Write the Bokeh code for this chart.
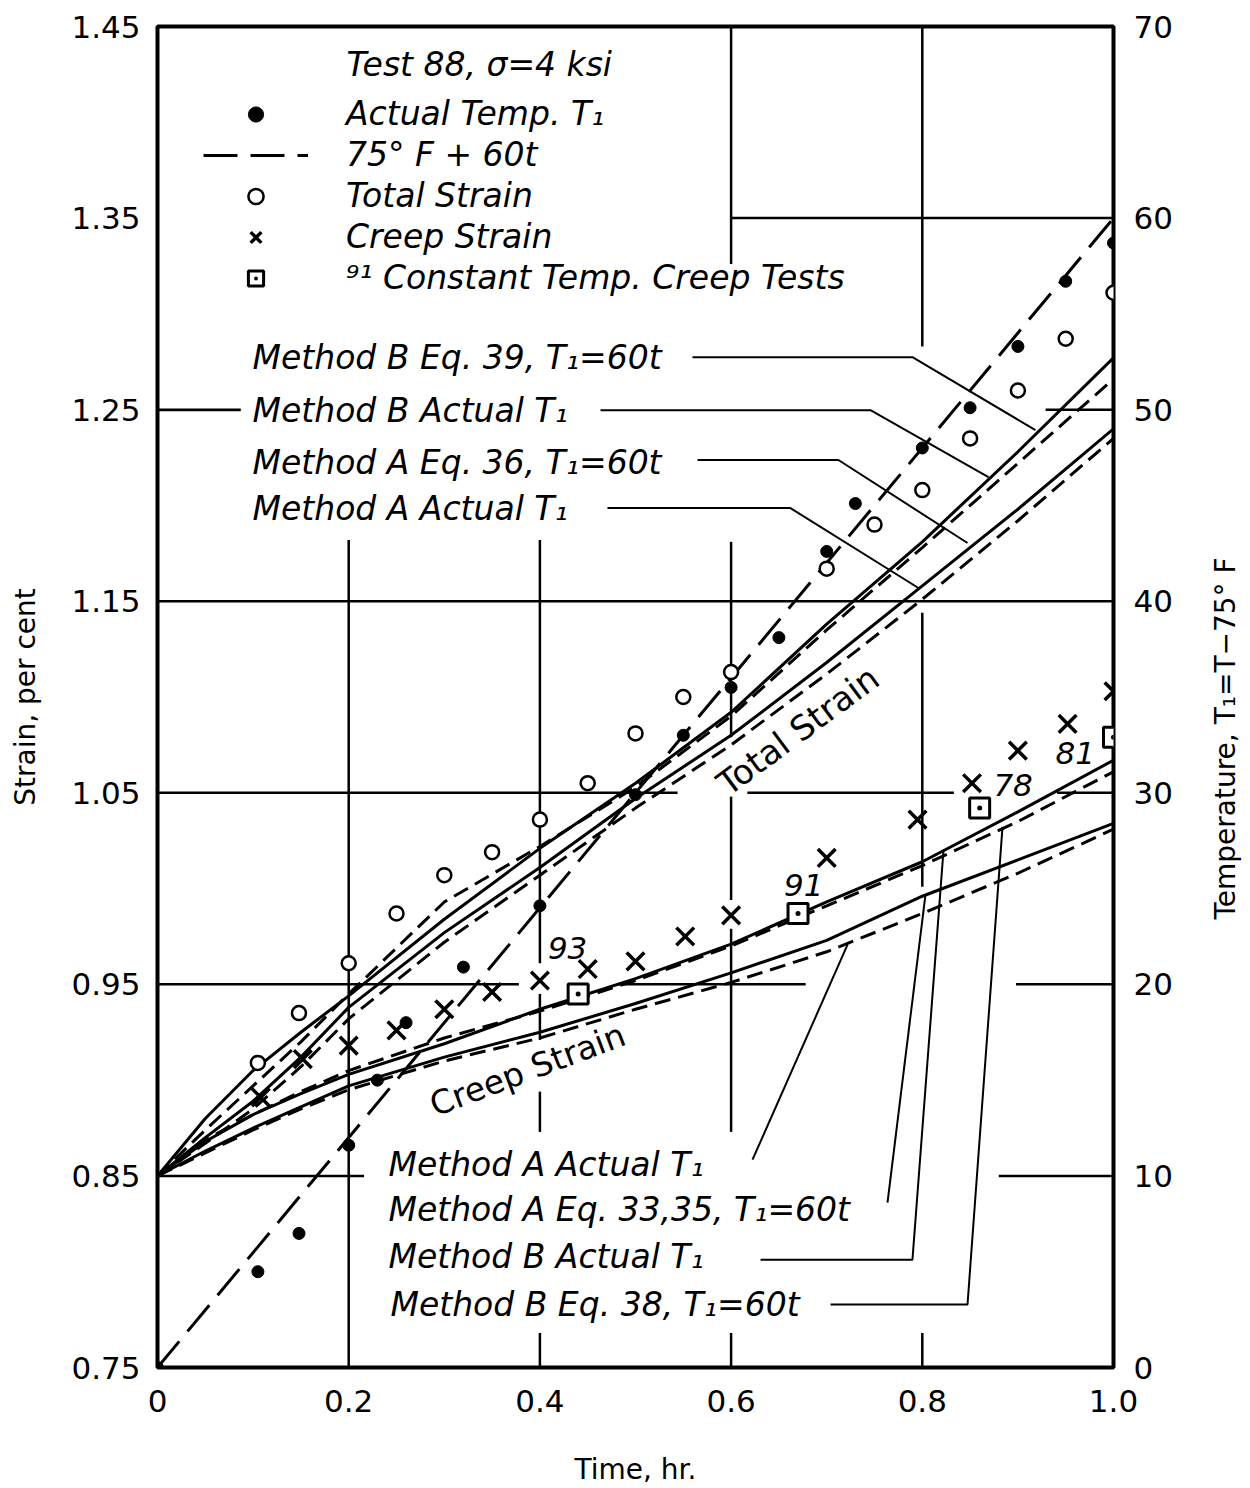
import math
from bokeh.plotting import figure
from bokeh.layouts import row
from bokeh.models import (Range1d, LinearAxis, FixedTicker, NumeralTickFormatter,
                          Label, Legend, LegendItem)
from bokeh.embed import file_html
from bokeh.resources import INLINE

# ---------------- data ----------------
# actual temperature T1 (deg F above 75 F), right axis
temp_t = [0, 0.105, 0.148, 0.2, 0.23, 0.26, 0.32, 0.4, 0.5, 0.55, 0.6, 0.65,
          0.7, 0.73, 0.8, 0.85, 0.9, 0.95, 1.0]
temp_T = [0, 5.0, 7.0, 11.6, 15.0, 18.0, 20.9, 24.1, 29.9, 33.0, 35.5, 38.1,
          42.6, 45.1, 48.0, 50.1, 53.3, 56.7, 58.7]
# programmed temperature 75F + 60t
prog_t = [0, 1.0]
prog_T = [0, 60]
# total strain (open circles)
total_t = [0.105, 0.148, 0.2, 0.25, 0.3, 0.35, 0.4, 0.45, 0.5, 0.55, 0.6, 0.7,
           0.75, 0.8, 0.85, 0.9, 0.95, 1.0]
total_s = [0.909, 0.935, 0.961, 0.987, 1.007, 1.019, 1.036, 1.055, 1.081, 1.100,
           1.113, 1.167, 1.190, 1.208, 1.235, 1.260, 1.287, 1.311]
# creep strain (crosses)
creep_t = [0.108, 0.152, 0.2, 0.25, 0.30, 0.35, 0.4, 0.45, 0.5, 0.552, 0.6, 0.70,
           0.795, 0.852, 0.90, 0.952, 1.0]
creep_s = [0.891, 0.911, 0.918, 0.926, 0.937, 0.946, 0.952, 0.958, 0.962, 0.975,
           0.986, 1.016, 1.036, 1.055, 1.072, 1.086, 1.103]
# constant temperature creep tests
const_t = [0.44, 0.67, 0.86, 1.0]
const_s = [0.945, 0.987, 1.042, 1.079]
const_lbl = ["93", "91", "78", "81"]
const_lbl_t = [0.429, 0.676, 0.895, 0.960]
const_lbl_s = [0.969, 1.002, 1.054, 1.071]

# model curves
curve_t = [0, 0.05, 0.1, 0.15, 0.2, 0.3, 0.4, 0.5, 0.6, 0.7, 0.8, 0.9, 1.0]
tot_B_actual = [0.85, 0.880, 0.905, 0.925, 0.944, 0.984, 1.021, 1.055, 1.092, 1.138, 1.181, 1.228, 1.277]
tot_B_eq39 = [0.85, 0.874, 0.897, 0.920, 0.945, 0.993, 1.022, 1.053, 1.090, 1.135, 1.178, 1.222, 1.266]
tot_A_actual = [0.85, 0.870, 0.889, 0.912, 0.938, 0.977, 1.011, 1.047, 1.080, 1.118, 1.158, 1.198, 1.240]
tot_A_eq36 = [0.85, 0.867, 0.885, 0.907, 0.932, 0.972, 1.007, 1.042, 1.075, 1.112, 1.151, 1.192, 1.235]
crp_B_actual = [0.85, 0.868, 0.882, 0.893, 0.903, 0.919, 0.937, 0.953, 0.971, 0.993, 1.014, 1.040, 1.067]
crp_B_eq38 = [0.85, 0.869, 0.882, 0.894, 0.905, 0.922, 0.936, 0.952, 0.970, 0.991, 1.012, 1.035, 1.061]
crp_A_eq33 = [0.85, 0.863, 0.875, 0.886, 0.897, 0.912, 0.925, 0.940, 0.956, 0.973, 0.996, 1.015, 1.034]
crp_A_actual = [0.85, 0.862, 0.874, 0.885, 0.895, 0.910, 0.922, 0.937, 0.951, 0.967, 0.987, 1.008, 1.031]

# ticks
x_ticks = [0, 0.2, 0.4, 0.6, 0.8, 1.0]
y_ticks = [0.75, 0.85, 0.95, 1.05, 1.15, 1.25, 1.35, 1.45]
temp_ticks = [0, 10, 20, 30, 40, 50, 60, 70]

# broken grid lines of the original drawing
vgrid_t = [0.2, 0.4, 0.4, 0.4, 0.4, 0.6, 0.6, 0.6, 0.6, 0.6, 0.8, 0.8, 0.8]
vgrid_from = [0.75, 0.961, 0.921, 0.873, 0.75, 1.326, 1.079, 0.994, 0.873, 0.75, 1.283, 1.001, 0.75]
vgrid_to = [1.182, 1.182, 0.945, 0.894, 0.768, 1.45, 1.181, 1.048, 0.979, 0.768, 1.45, 1.144, 0.768]
hgrid_s = [1.35, 1.25, 1.25, 1.15, 1.05, 1.05, 1.05, 0.95, 0.95, 0.95, 0.85, 0.85]
hgrid_from = [0.600, 0.0, 0.929, 0.0, 0.0, 0.617, 0.941, 0.0, 0.481, 0.898, 0.0, 0.880]
hgrid_to = [1.0, 0.087, 1.0, 1.0, 0.544, 0.833, 1.0, 0.378, 0.678, 1.0, 0.216, 1.0]

# annotation texts and leader lines
upper_labels = ["Method B Eq. 39, T\u2081=60t", "Method B Actual T\u2081",
                "Method A Eq. 36, T\u2081=60t", "Method A Actual T\u2081"]
upper_label_t = [0.0994, 0.0994, 0.0994, 0.0994]
upper_label_s = [1.2774, 1.2497, 1.2226, 1.1986]
lower_labels = ["Method A Actual T\u2081", "Method A Eq. 33,35, T\u2081=60t",
                "Method B Actual T\u2081", "Method B Eq. 38, T\u2081=60t"]
lower_label_t = [0.2416, 0.2416, 0.2416, 0.2437]
lower_label_s = [0.8559, 0.8324, 0.8079, 0.7829]
leader_xs = [[0.5596, 0.7897, 0.9184], [0.0, 0.0868], [0.4634, 0.7458, 0.8692],
             [0.5649, 0.7123, 0.8473], [0.4707, 0.6621, 0.7960], [0.6224, 0.7218],
             [0.7636, 0.8033], [0.6308, 0.7897, 0.8222], [0.7040, 0.8473, 0.8839]]
leader_ys = [[1.2774, 1.2774, 1.2393], [1.2497, 1.2497], [1.2497, 1.2497, 1.2148],
             [1.2237, 1.2237, 1.1804], [1.1986, 1.1986, 1.1569], [0.8585, 0.9707],
             [0.8361, 0.9967], [0.8063, 0.8063, 1.0202], [0.7829, 0.7829, 1.0322]]

temp_title = "Temperature, T\u2081=T\u221275\u00b0 F"

FONT = "DejaVu Sans"
INK = "black"
W_MAIN, W_SIDE, H = 1210, 40, 1488

p = figure(width=W_MAIN, height=H, x_range=Range1d(0, 1.0), y_range=Range1d(0.75, 1.45),
           output_backend="svg", toolbar_location=None,
           min_border_left=157, min_border_right=W_MAIN - 1113, min_border_top=26,
           min_border_bottom=120)
p.extra_y_ranges = {"temp": Range1d(0, 70)}
p.add_layout(LinearAxis(y_range_name="temp"), "right")
p.grid.visible = False
p.outline_line_color = INK
p.outline_line_width = 4
p.background_fill_color = "white"
p.border_fill_color = "white"

for ax in p.axis:
    ax.axis_line_color = None
    ax.major_tick_line_color = None
    ax.minor_tick_line_color = None
    ax.major_tick_out = 0
    ax.major_tick_in = 0
    ax.minor_tick_out = 0
    ax.major_label_text_font = FONT
    ax.major_label_text_font_size = "31px"
    ax.major_label_text_color = INK
    ax.axis_label_text_font = FONT
    ax.axis_label_text_font_size = "28px"
    ax.axis_label_text_font_style = "normal"
    ax.axis_label_text_color = INK

bx = p.below[0]
bx.ticker = FixedTicker(ticks=x_ticks)
bx.formatter = NumeralTickFormatter(format="0.0")
bx.major_label_overrides = {0: "0"}
bx.major_label_standoff = 22
bx.axis_label = "Time, hr."
bx.axis_label_standoff = 38

lx = p.left[0]
lx.ticker = FixedTicker(ticks=y_ticks)
lx.formatter = NumeralTickFormatter(format="0.00")
lx.major_label_standoff = 17
lx.axis_label = "Strain, per cent"
lx.axis_label_standoff = 26

rx = p.right[0]
rx.ticker = FixedTicker(ticks=temp_ticks)
rx.major_label_standoff = 20

# grid
p.segment(x0=vgrid_t, y0=vgrid_from, x1=vgrid_t, y1=vgrid_to, line_color=INK, line_width=2.5)
p.segment(x0=hgrid_from, y0=hgrid_s, x1=hgrid_to, y1=hgrid_s, line_color=INK, line_width=2.5)

# leaders
p.multi_line(xs=leader_xs, ys=leader_ys, line_color=INK, line_width=2)

# model curves
p.line(curve_t, tot_B_actual, line_color=INK, line_width=3)
p.line(curve_t, tot_B_eq39, line_color=INK, line_width=3, line_dash="16 8")
p.line(curve_t, tot_A_actual, line_color=INK, line_width=3)
p.line(curve_t, tot_A_eq36, line_color=INK, line_width=3, line_dash="16 8")
p.line(curve_t, crp_B_actual, line_color=INK, line_width=3)
p.line(curve_t, crp_B_eq38, line_color=INK, line_width=3, line_dash="16 8")
p.line(curve_t, crp_A_eq33, line_color=INK, line_width=3)
p.line(curve_t, crp_A_actual, line_color=INK, line_width=3, line_dash="16 8")

# temperature
r_prog = p.line(prog_t, prog_T, y_range_name="temp", line_color=INK, line_width=3,
                line_dash="34 13")
r_temp = p.scatter(temp_t, temp_T, y_range_name="temp", marker="circle", size=12,
                   fill_color=INK, line_color=INK)
# strains
r_total = p.scatter(total_t, total_s, marker="circle", size=14, fill_color="white",
                    line_color=INK, line_width=2.5)
r_creep = p.scatter(creep_t, creep_s, marker="x", size=25, line_color=INK, line_width=3.5)
r_const = p.scatter(const_t, const_s, marker="square_dot", size=20, fill_color="white",
                    line_color=INK, line_width=3)

def lab(fig, x, y, text, size="33px", style="italic", angle=0.0, align="left"):
    fig.add_layout(Label(x=x, y=y, text=text, text_font=FONT, text_font_size=size,
                         text_font_style=style, text_color=INK, angle=angle,
                         text_align=align, text_baseline="middle"))

for t, s, txt in zip(const_lbl_t, const_lbl_s, const_lbl):
    lab(p, t, s, txt, size="31px", align="center")
for t, s, txt in zip(upper_label_t, upper_label_s, upper_labels):
    lab(p, t, s, txt)
for t, s, txt in zip(lower_label_t, lower_label_s, lower_labels):
    lab(p, t, s, txt)

lab(p, 0.670, 1.0825, "Total Strain", size="34px", style="normal", angle=0.637, align="center")
lab(p, 0.387, 0.9055, "Creep Strain", size="33px", style="normal", angle=0.361, align="center")
lab(p, 0.1977, 1.4302, "Test 88, \u03c3=4 ksi")

legend = Legend(items=[
    LegendItem(label="Actual Temp. T\u2081", renderers=[r_temp]),
    LegendItem(label="75\u00b0 F + 60t", renderers=[r_prog]),
    LegendItem(label="Total Strain", renderers=[r_total]),
    LegendItem(label="Creep Strain", renderers=[r_creep]),
    LegendItem(label="\u2079\u00b9 Constant Temp. Creep Tests", renderers=[r_const]),
], location=(46, 1070), orientation="vertical", glyph_width=105, glyph_height=38,
    label_height=38, spacing=2, padding=0, margin=0, label_standoff=38,
    border_line_color=None, background_fill_alpha=0,
    label_text_font=FONT, label_text_font_style="italic", label_text_font_size="33px",
    label_text_color=INK)
p.add_layout(legend)

# narrow strip on the right carrying the temperature-axis title (reads bottom to top)
side = figure(width=W_SIDE, height=H, x_range=Range1d(0, W_SIDE), y_range=Range1d(0, H),
              output_backend="svg", toolbar_location=None, x_axis_type=None, y_axis_type=None,
              min_border_left=0, min_border_right=0, min_border_top=0, min_border_bottom=0)
side.grid.visible = False
side.outline_line_color = None
side.background_fill_color = "white"
side.border_fill_color = "white"
lab(side, 15, H - 790, temp_title, size="28px", style="normal", angle=math.pi / 2, align="center")

layout = row(p, side, spacing=0)
open("out.html", "w").write(file_html(layout, INLINE))
